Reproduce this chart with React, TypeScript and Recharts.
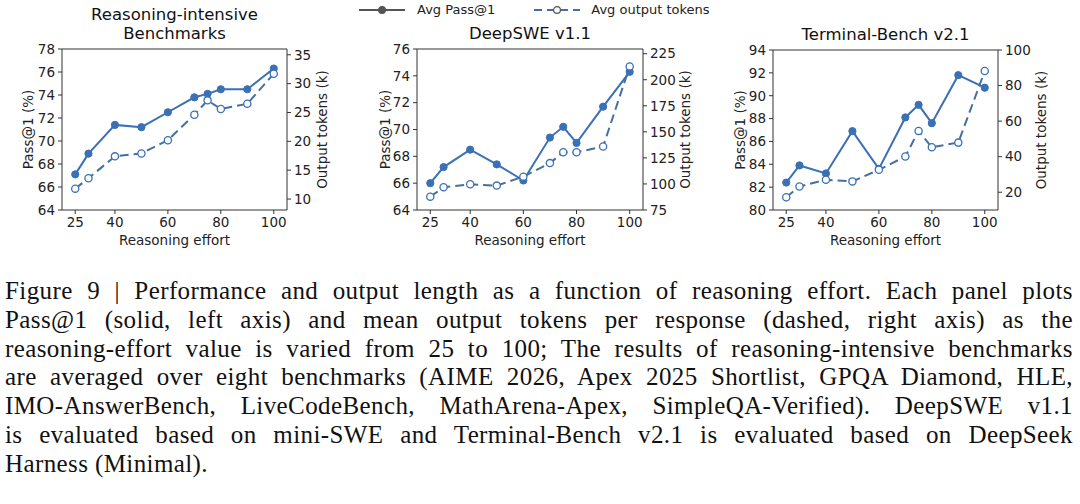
import React from 'react';
import { LineChart, Line, XAxis, YAxis, ReferenceLine } from 'recharts';

const effort = [25, 30, 40, 50, 60, 70, 75, 80, 90, 100];
const effortTicks = [25, 40, 60, 80, 100];

const reasoningPass = [67.1, 68.9, 71.4, 71.2, 72.5, 73.8, 74.1, 74.5, 74.5, 76.3];
const reasoningTokens = [11.8, 13.6, 17.4, 17.9, 20.2, 24.6, 27.1, 25.6, 26.5, 31.7];
const deepswePass = [66.0, 67.2, 68.5, 67.4, 66.2, 69.4, 70.2, 69.0, 71.7, 74.3];
const deepsweTokens = [87.8, 96.8, 99.7, 98.4, 107, 120, 130.4, 130.4, 135.9, 212.8];
const terminalPass = [82.4, 83.9, 83.2, 86.9, 83.6, 88.1, 89.2, 87.6, 91.8, 90.7];
const terminalTokens = [17.2, 23.2, 27.0, 26.1, 32.6, 40.1, 54.5, 45.3, 47.9, 88.2];

const captionLines = [
  'Figure 9 | Performance and output length as a function of reasoning effort. Each panel plots',
  'Pass@1 (solid, left axis) and mean output tokens per response (dashed, right axis) as the',
  'reasoning-effort value is varied from 25 to 100; The results of reasoning-intensive benchmarks',
  'are averaged over eight benchmarks (AIME 2026, Apex 2025 Shortlist, GPQA Diamond, HLE,',
  'IMO-AnswerBench, LiveCodeBench, MathArena-Apex, SimpleQA-Verified). DeepSWE v1.1',
  'is evaluated based on mini-SWE and Terminal-Bench v2.1 is evaluated based on DeepSeek',
  'Harness (Minimal).',
];

const SOLID = '#3a70b5';
const DASHED = '#44709f';
const AXIS = '#333';
const FONT = '"DejaVu Sans", sans-serif';

const build = (pass: number[], tokens: number[]) =>
  effort.map((e, i) => ({ effort: e, pass: pass[i], tokens: tokens[i] }));

type PanelProps = {
  left: number;
  top: number;
  title: string[];
  data: any[];
  leftDomain: [number, number];
  leftTicks: number[];
  rightDomain: [number, number];
  rightTicks: number[];
  leftWidth: number;
  rightWidth: number;
  leftDx: number;
  rightDx: number;
};

function Panel(p: PanelProps) {
  const tick = { fontSize: 13.5, fill: '#222', fontFamily: FONT };
  const plotLeft = p.left + p.leftWidth;
  const plotRight = p.left + 360 - p.rightWidth;
  return (
    <>
      <div
        style={{
          position: 'absolute',
          left: plotLeft,
          width: plotRight - plotLeft,
          top: p.top - 6 - p.title.length * 19,
          textAlign: 'center',
          fontFamily: FONT,
          fontSize: 16.5,
          lineHeight: '19px',
          color: '#111',
        }}
      >
        {p.title.map((t) => (
          <div key={t}>{t}</div>
        ))}
      </div>
      <div style={{ position: 'absolute', left: p.left, top: 0 }}>
        <LineChart width={360} height={260} data={p.data} margin={{ top: p.top, right: 0, bottom: 12, left: 0 }}>
          <XAxis
            dataKey="effort"
            type="number"
            domain={[20, 105]}
            ticks={effortTicks}
            allowDataOverflow
            height={38}
            tickSize={4}
            tickMargin={3}
            stroke={AXIS}
            tick={tick}
            label={{ value: 'Reasoning effort', position: 'insideBottom', offset: 3, fontSize: 13.5, fill: '#222', fontFamily: FONT }}
          />
          <YAxis
            yAxisId="left"
            orientation="left"
            domain={p.leftDomain}
            ticks={p.leftTicks}
            allowDataOverflow
            width={p.leftWidth}
            tickSize={4}
            tickMargin={3}
            stroke={AXIS}
            tick={tick}
            label={{ value: 'Pass@1 (%)', angle: -90, position: 'center', dx: p.leftDx, fontSize: 13.5, fill: '#222', fontFamily: FONT }}
          />
          <YAxis
            yAxisId="right"
            orientation="right"
            domain={p.rightDomain}
            ticks={p.rightTicks}
            allowDataOverflow
            width={p.rightWidth}
            tickSize={4}
            tickMargin={3}
            stroke={AXIS}
            tick={tick}
            label={{ value: 'Output tokens (k)', angle: -90, position: 'center', dx: p.rightDx, fontSize: 13.5, fill: '#222', fontFamily: FONT }}
          />
          <ReferenceLine yAxisId="left" y={p.leftDomain[1]} stroke={AXIS} strokeWidth={1} />
          <Line
            yAxisId="left"
            dataKey="pass"
            stroke={SOLID}
            strokeWidth={2}
            dot={{ r: 3.6, fill: SOLID, stroke: SOLID, strokeWidth: 1 }}
            isAnimationActive={false}
          />
          <Line
            yAxisId="right"
            dataKey="tokens"
            stroke={DASHED}
            strokeWidth={2}
            strokeDasharray="9 5"
            dot={{ r: 3.6, fill: '#fff', stroke: SOLID, strokeWidth: 1.3, strokeDasharray: 'none' }}
            isAnimationActive={false}
          />
        </LineChart>
      </div>
    </>
  );
}

function LegendIcon({ dashed }: { dashed: boolean }) {
  return (
    <svg width={48} height={12} style={{ display: 'block' }}>
      <line x1={1} y1={6} x2={47} y2={6} stroke={dashed ? DASHED : '#555'} strokeWidth={2} strokeDasharray={dashed ? '8 5' : undefined} />
      <circle cx={24} cy={6} r={3.4} fill={dashed ? '#fff' : '#555'} stroke="#555" strokeWidth={1.2} />
    </svg>
  );
}

export default function App() {
  return (
    <div
      style={{
        position: 'fixed',
        left: 0,
        top: 0,
        width: 1080,
        height: 504,
        background: '#fff',
        overflow: 'hidden',
      }}
    >
      <Panel
        left={0}
        top={49}
        title={['Reasoning-intensive', 'Benchmarks']}
        data={build(reasoningPass, reasoningTokens)}
        leftDomain={[64, 78]}
        leftTicks={[64, 66, 68, 70, 72, 74, 76, 78]}
        rightDomain={[8.1, 36]}
        rightTicks={[10, 15, 20, 25, 30, 35]}
        leftWidth={62}
        rightWidth={73}
        leftDx={-3}
        rightDx={-1.5}
      />
      <Panel
        left={360}
        top={49}
        title={['DeepSWE v1.1']}
        data={build(deepswePass, deepsweTokens)}
        leftDomain={[64, 76]}
        leftTicks={[64, 66, 68, 70, 72, 74, 76]}
        rightDomain={[75, 229.5]}
        rightTicks={[75, 100, 125, 150, 175, 200, 225]}
        leftWidth={57}
        rightWidth={77}
        leftDx={-3.5}
        rightDx={3.5}
      />
      <Panel
        left={720}
        top={50}
        title={['Terminal-Bench v2.1']}
        data={build(terminalPass, terminalTokens)}
        leftDomain={[80, 94]}
        leftTicks={[80, 82, 84, 86, 88, 90, 92, 94]}
        rightDomain={[10, 100]}
        rightTicks={[20, 40, 60, 80, 100]}
        leftWidth={53}
        rightWidth={82}
        leftDx={-6.5}
        rightDx={2.7}
      />
      <div
        style={{
          position: 'absolute',
          left: 358,
          top: 2,
          display: 'flex',
          alignItems: 'center',
          fontFamily: FONT,
          fontSize: 13,
          color: '#222',
          whiteSpace: 'nowrap',
        }}
      >
        <LegendIcon dashed={false} />
        <span style={{ marginLeft: 11, marginRight: 38 }}>Avg Pass@1</span>
        <LegendIcon dashed={true} />
        <span style={{ marginLeft: 10 }}>Avg output tokens</span>
      </div>
      <div
        style={{
          position: 'absolute',
          left: 5,
          top: 277,
          width: 1068,
          fontFamily: '"Liberation Serif", serif',
          fontSize: 25,
          letterSpacing: 0.4,
          lineHeight: '28.8px',
          color: '#111',
        }}
      >
        {captionLines.map((line, i) => (
          <div
            key={i}
            style={{
              whiteSpace: 'nowrap',
              textAlign: i === captionLines.length - 1 ? 'left' : 'justify',
              textAlignLast: i === captionLines.length - 1 ? 'left' : 'justify',
            }}
          >
            {line}
          </div>
        ))}
      </div>
    </div>
  );
}
